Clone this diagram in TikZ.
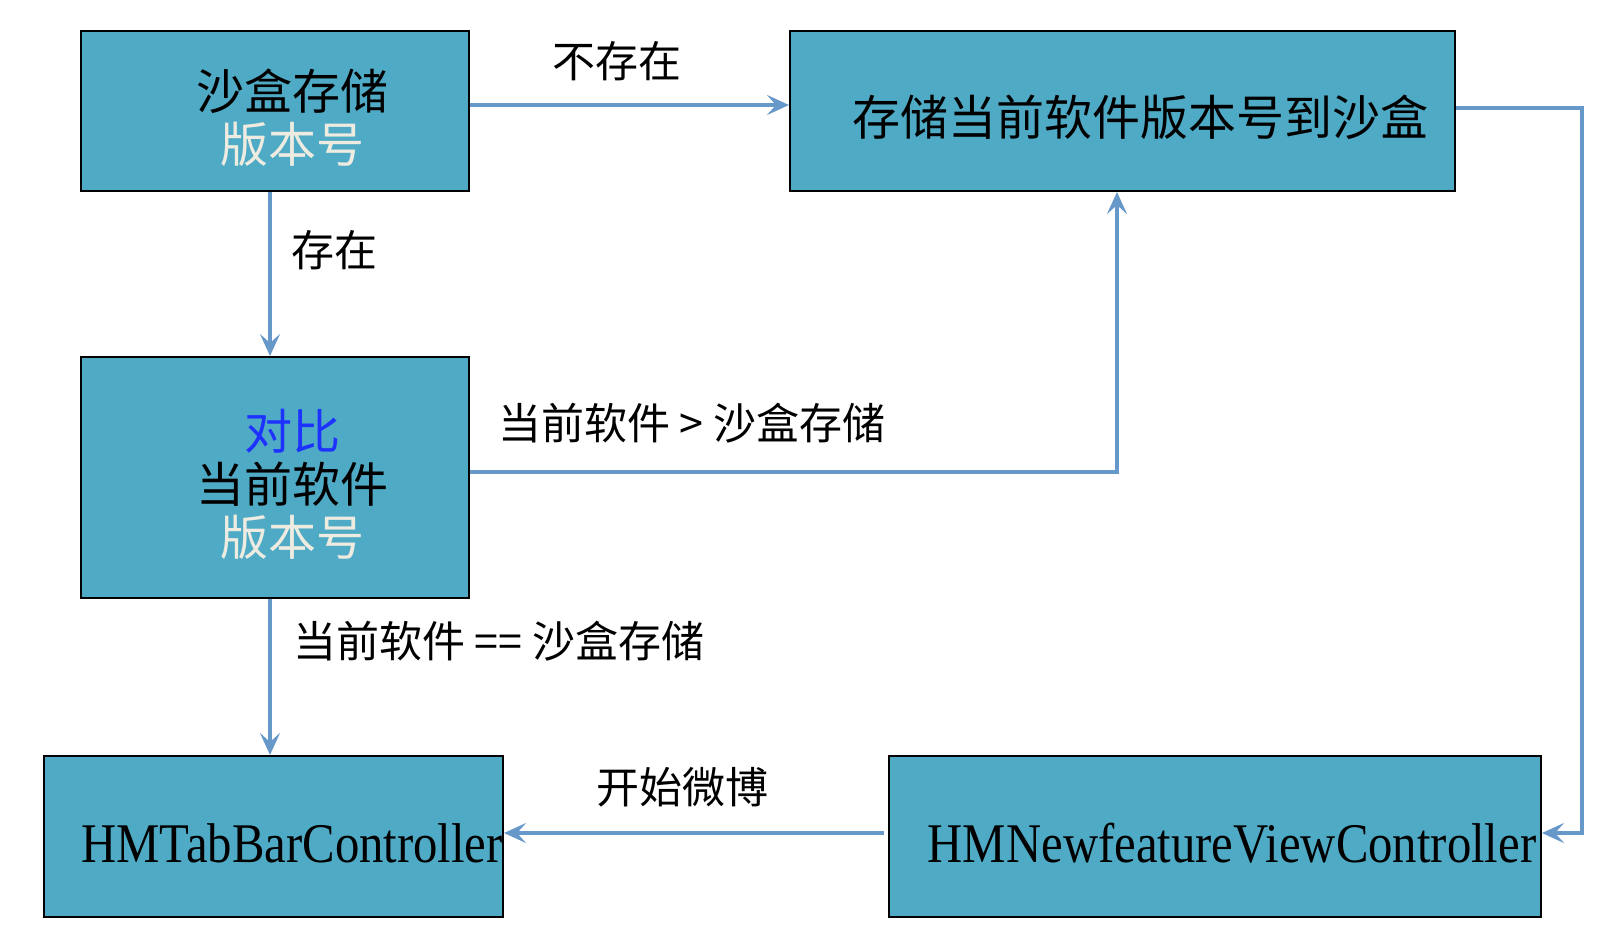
\documentclass[tikz,border=0pt]{standalone}
\usepackage{fontspec}
\usetikzlibrary{arrows.meta}
\newfontfamily\cjk{Noto Sans CJK SC}
\newfontfamily\latinserif[FakeStretch=0.87]{Liberation Serif}
\definecolor{boxfill}{RGB}{79,170,198}
\definecolor{arrowblue}{RGB}{103,152,202}
\definecolor{offwhite}{RGB}{238,236,225}
\definecolor{cmpblue}{RGB}{30,50,255}
\tikzset{
  box/.style={draw=black, line width=1pt, fill=boxfill, inner sep=0pt},
  boxtext/.style={font=\cjk\fontsize{24}{26.5}\selectfont, align=center, inner sep=0pt},
  latintext/.style={font=\latinserif\fontsize{28}{30}\selectfont, inner sep=0pt},
  lbl/.style={font=\cjk\fontsize{21.5}{24}\selectfont, inner sep=0pt},
  arr/.style={draw=arrowblue, line width=2pt, -{Stealth[length=11pt,width=10pt,inset=4.5pt]}}
}
\begin{document}
\begin{tikzpicture}[x=0.5pt,y=-0.5pt]
\useasboundingbox (0,0) rectangle (1602,928);
% boxes
\node[box, minimum width=194pt, minimum height=80pt] (A) at (275,111) {};
\node[box, minimum width=332.5pt, minimum height=80pt] (B) at (1122.5,111) {};
\node[box, minimum width=194pt, minimum height=120.5pt] (C) at (275,477.5) {};
\node[box, minimum width=229.5pt, minimum height=80.5pt] (D) at (273.5,836.5) {};
\node[box, minimum width=326pt, minimum height=80.5pt] (E) at (1215,836.5) {};
% box texts
\node[boxtext] (At) at (292,118) {沙盒存储\\\textcolor{offwhite}{版本号}};
\node[boxtext] (Bt) at (1140,117) {存储当前软件版本号到沙盒};
\node[boxtext] (Ct) at (292,484) {\textcolor{cmpblue}{对比}\\当前软件\\\textcolor{offwhite}{版本号}};
\node[latintext] (Dt) at (292,843) {HMTabBarController};
\node[latintext] (Et) at (1232,843) {HMNewfeatureViewController};
% connectors
\coordinate (BR1) at (1582,108);
\coordinate (BR2) at (1582,833);
\draw[arr] ([yshift=3pt]A.east) -- ([yshift=3pt]A.east -| B.west);
\draw[arr] ([xshift=-2.5pt]A.south) -- ([xshift=-2.5pt]C.north);
\draw[arr] ([yshift=2.75pt]C.east) -| ([xshift=-2.75pt]B.south);
\draw[arr] ([xshift=-2.5pt]C.south) -- ([xshift=-2.5pt]C.south |- D.north);
\draw[arr] ([yshift=1.5pt]B.east) -- (BR1) -- (BR2) -- ([yshift=1.75pt]E.east);
\draw[arr] ([xshift=-2pt,yshift=1.75pt]E.west) -- ([yshift=1.75pt]D.east);
% labels
\node[lbl] (L1) at (617,61) {不存在};
\node[lbl, anchor=west] (L2) at (291,250) {存在};
\node[lbl, anchor=west] (L3) at (498,423) {当前软件 > 沙盒存储};
\node[lbl, anchor=west] (L4) at (293,641) {当前软件 == 沙盒存储};
\node[lbl] (L5) at (682,787) {开始微博};
\end{tikzpicture}
\end{document}
